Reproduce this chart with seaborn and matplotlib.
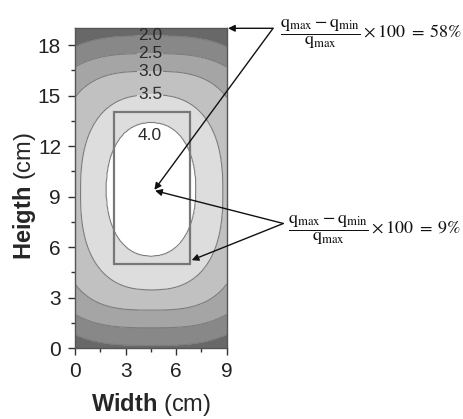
import numpy as np
import matplotlib
matplotlib.use("Agg")
import matplotlib.pyplot as plt
from matplotlib.ticker import MultipleLocator
import seaborn as sns

# contour levels, with the extent of each closed line
# (half width / half height around the centre, in cm) and how "square" it is
levels_read = [1.5, 2.0, 2.5, 3.0, 3.5, 4.0, 4.3]
half_w = [9.0, 7.72, 7.0, 5.59, 4.23, 2.67, 1.0]
half_h = [10.5, 9.2, 8.15, 7.1, 5.8, 3.98, 1.4]
center_x = [4.5, 4.5, 4.5, 4.5, 4.55, 4.51, 4.51]
center_y = [9.35, 9.35, 9.35, 9.35, 9.25, 9.43, 9.43]
shape_p = [3.0, 3.0, 3.0, 3.0, 2.5, 2.2, 2.0]

fill_levels = [0.0, 2.0, 2.5, 3.0, 3.5, 4.0, 5.0]
line_levels = [2.0, 2.5, 3.0, 3.5, 4.0]
band_colors = ["#686868", "#888888", "#a5a5a5", "#c1c1c1", "#dddddd", "#ffffff"]
label_pos = [(4.45, 18.55), (4.45, 17.5), (4.45, 16.45), (4.45, 15.0)]
inner_label = (4.45, 12.65, "4.0")

sample_rect = (2.3, 5.0, 4.55, 9.0)  # x0, y0, width, height (cm)
eq_58 = r"$\dfrac{\mathrm{q}_{\mathrm{max}}-\mathrm{q}_{\mathrm{min}}}{\mathrm{q}_{\mathrm{max}}}\times 100\;=\;58\%$"
eq_9 = r"$\dfrac{\mathrm{q}_{\mathrm{max}}-\mathrm{q}_{\mathrm{min}}}{\mathrm{q}_{\mathrm{max}}}\times 100\;=\;9\%$"

sns.set_style("ticks")
plt.rcParams["font.family"] = ["Liberation Sans", "DejaVu Sans"]
plt.rcParams["mathtext.fontset"] = "custom"
plt.rcParams["mathtext.rm"] = "Liberation Sans"
plt.rcParams["mathtext.bf"] = "Liberation Sans:bold"

# build the field from the read contour lines
xs = np.linspace(0, 9, 181)
ys = np.linspace(0, 19, 381)
X, Y = np.meshgrid(xs, ys)
R = np.array([
    ((np.abs(X - cx) / a) ** p + (np.abs(Y - cy) / b) ** p) ** (1.0 / p)
    for a, b, cx, cy, p in zip(half_w, half_h, center_x, center_y, shape_p)
])
Z = np.full(X.shape, levels_read[0]) - (R[0] - 1)
for k in range(len(levels_read) - 1):
    m = (R[k] <= 1) & (R[k + 1] > 1)
    frac = (1 - R[k][m]) / (R[k + 1][m] - R[k][m])
    Z[m] = levels_read[k] + (levels_read[k + 1] - levels_read[k]) * frac
Z[R[-1] <= 1] = levels_read[-1]

fig = plt.figure(figsize=(4.64, 4.19), dpi=100)
ax = fig.add_axes([75 / 464, 71 / 419, 151.7 / 464, 319.7 / 419])

ax.contourf(X, Y, Z, levels=fill_levels, colors=band_colors)
cs = ax.contour(X, Y, Z, levels=line_levels, colors="#7c7c7c", linewidths=0.8)
ax.clabel(cs, levels=line_levels[:4], fmt="%.1f", fontsize=12.5, colors="#2a2a2a",
          inline=True, inline_spacing=1, manual=label_pos)
ax.text(*inner_label, fontsize=12.5, color="#2a2a2a", ha="center", va="center")

ax.add_patch(plt.Rectangle(sample_rect[:2], sample_rect[2], sample_rect[3],
                           fill=False, edgecolor="#777777", lw=1.6))

ax.set_xlim(0, 9)
ax.set_ylim(0, 19)
ax.set_xticks([0, 3, 6, 9])
ax.set_yticks(range(0, 19, 3))
ax.xaxis.set_minor_locator(MultipleLocator(1.5))
ax.yaxis.set_minor_locator(MultipleLocator(1.5))
ax.tick_params(which="major", direction="out", length=5, width=1, labelsize=15,
               color="#333333", labelcolor="#222222", pad=5)
ax.tick_params(which="minor", direction="out", length=3, width=1, color="#333333")
for s in ax.spines.values():
    s.set_color("#555555")
    s.set_linewidth(1)

ax.set_xlabel(r"$\mathbf{Width}$ (cm)", fontsize=17)
ax.set_ylabel(r"$\mathbf{Heigth}$ (cm)", fontsize=17)
ax.xaxis.set_label_coords(0.5, -0.134)
ax.yaxis.set_label_coords(-0.244, 0.475)

arrow = dict(arrowstyle="-|>", color="#111111", lw=1, mutation_scale=10,
             shrinkA=0, shrinkB=0)
ax.annotate("", xy=(9.08, 19.0), xytext=(11.75, 19.0), arrowprops=arrow,
            annotation_clip=False)
ax.annotate("", xy=(4.71, 9.4), xytext=(11.75, 19.0), arrowprops=arrow,
            annotation_clip=False)
ax.annotate("", xy=(4.75, 9.35), xytext=(12.36, 7.4), arrowprops=arrow,
            annotation_clip=False)
ax.annotate("", xy=(6.92, 5.22), xytext=(12.36, 7.4), arrowprops=arrow,
            annotation_clip=False)

fig.text(280 / 464, 1 - 34 / 419, eq_58, ha="left", va="center", fontsize=13,
         math_fontfamily="stix", color="#111111")
fig.text(288 / 464, 1 - 230 / 419, eq_9, ha="left", va="center", fontsize=13,
         math_fontfamily="stix", color="#111111")

fig.savefig("out.png", dpi=100)
